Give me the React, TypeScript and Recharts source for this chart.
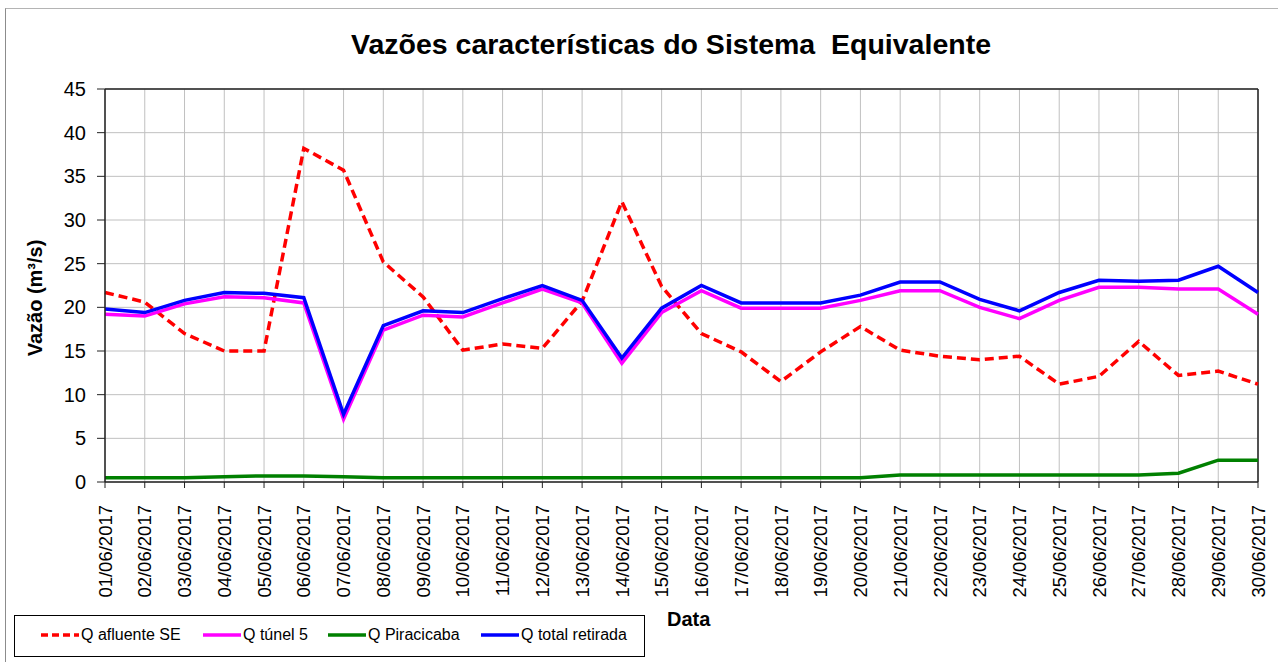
import { LineChart, Line, XAxis, YAxis, CartesianGrid, ReferenceLine } from 'recharts';

const DATES = [
  '01/06/2017', '02/06/2017', '03/06/2017', '04/06/2017', '05/06/2017',
  '06/06/2017', '07/06/2017', '08/06/2017', '09/06/2017', '10/06/2017',
  '11/06/2017', '12/06/2017', '13/06/2017', '14/06/2017', '15/06/2017',
  '16/06/2017', '17/06/2017', '18/06/2017', '19/06/2017', '20/06/2017',
  '21/06/2017', '22/06/2017', '23/06/2017', '24/06/2017', '25/06/2017',
  '26/06/2017', '27/06/2017', '28/06/2017', '29/06/2017', '30/06/2017',
];

const Q_AFLUENTE = [
  21.7, 20.6, 17.0, 15.0, 15.0, 38.2, 35.7, 25.2, 21.2, 15.1,
  15.8, 15.3, 20.7, 32.1, 22.4, 17.0, 14.9, 11.5, 14.9, 17.8,
  15.1, 14.4, 14.0, 14.4, 11.2, 12.1, 16.1, 12.2, 12.7, 11.2,
];

const Q_TUNEL = [
  19.2, 19.0, 20.4, 21.2, 21.1, 20.5, 7.2, 17.4, 19.1, 18.9,
  20.5, 22.1, 20.5, 13.6, 19.4, 21.9, 19.9, 19.9, 19.9, 20.8,
  21.9, 21.9, 20.0, 18.7, 20.8, 22.3, 22.3, 22.1, 22.1, 19.2,
];

const Q_PIRACICABA = [
  0.5, 0.5, 0.5, 0.6, 0.7, 0.7, 0.6, 0.5, 0.5, 0.5,
  0.5, 0.5, 0.5, 0.5, 0.5, 0.5, 0.5, 0.5, 0.5, 0.5,
  0.8, 0.8, 0.8, 0.8, 0.8, 0.8, 0.8, 1.0, 2.5, 2.5,
];

const Q_TOTAL = [
  19.8, 19.4, 20.8, 21.7, 21.6, 21.1, 7.75, 17.9, 19.6, 19.4,
  21.0, 22.5, 20.8, 14.2, 19.9, 22.5, 20.5, 20.5, 20.5, 21.4,
  22.9, 22.9, 20.9, 19.6, 21.7, 23.1, 23.0, 23.1, 24.7, 21.7,
];

const Y_TICKS = [0, 5, 10, 15, 20, 25, 30, 35, 40, 45];

const data = DATES.map((d, i) => ({
  data: d,
  afluente: Q_AFLUENTE[i],
  tunel: Q_TUNEL[i],
  piracicaba: Q_PIRACICABA[i],
  total: Q_TOTAL[i],
}));

const FONT = '"Liberation Sans", Arial, sans-serif';

const LEGEND = [
  { name: 'Q afluente SE', color: '#ff0000', dash: '7 4' },
  { name: 'Q túnel 5', color: '#ff00ff' },
  { name: 'Q Piracicaba', color: '#008000' },
  { name: 'Q total retirada', color: '#0000ff' },
];

const DateTick = ({ x, y, payload }: any) => (
  <text
    x={x}
    y={y + 15}
    transform={`rotate(-90, ${x}, ${y + 15})`}
    textAnchor="end"
    dy="0.36em"
    fontSize={18.5}
    fontFamily={FONT}
    fill="#000"
  >
    {payload.value}
  </text>
);

const YLabel = ({ viewBox }: any) => (
  <text
    x={viewBox.x + 35}
    y={298}
    transform={`rotate(-90, ${viewBox.x + 35}, 298)`}
    textAnchor="middle"
    dy="0.36em"
    fontSize={20}
    fontWeight="bold"
    fontFamily={FONT}
    fill="#000"
  >
    Vazão (m³/s)
  </text>
);

export default function App() {
  return (
    <div style={{ position: 'absolute', left: 0, top: 0, width: 1278, height: 662, overflow: 'hidden', background: '#fff', fontFamily: FONT }}>
      <div style={{ position: 'absolute', left: 5, top: 8, width: 1300, height: 700, borderLeft: '1px solid #8c8c8c', borderTop: '1px solid #b4b4b4' }} />
      <div style={{ position: 'absolute', left: 0, width: 1342, top: 28, textAlign: 'center', fontSize: 28.5, fontWeight: 'bold', color: '#000', whiteSpace: 'pre' }}>
        {'Vazões características do Sistema  Equivalente'}
      </div>
      <LineChart width={1278} height={662} data={data} margin={{ top: 89, right: 20, bottom: 0, left: 0 }}>
        <CartesianGrid stroke="#c0c0c0" strokeWidth={1} />
        <XAxis
          dataKey="data"
          interval={0}
          height={180}
          tick={<DateTick />}
          tickSize={6}
          axisLine={{ stroke: '#222', strokeWidth: 1.5 }}
          tickLine={{ stroke: '#222', strokeWidth: 1 }}
        />
        <YAxis
          width={105}
          domain={[0, 45]}
          ticks={Y_TICKS}
          interval={0}
          tickSize={8}
          tickMargin={11}
          tick={{ fontSize: 20, fill: '#000', fontFamily: FONT }}
          axisLine={{ stroke: '#222', strokeWidth: 1.5 }}
          tickLine={{ stroke: '#222', strokeWidth: 1 }}
          label={<YLabel />}
        />
        <ReferenceLine y={45} stroke="#222" strokeWidth={1.5} />
        <ReferenceLine x="30/06/2017" stroke="#222" strokeWidth={1.5} />
        <Line dataKey="afluente" stroke="#ff0000" strokeWidth={3.5} strokeDasharray="9 5" dot={false} isAnimationActive={false} />
        <Line dataKey="tunel" stroke="#ff00ff" strokeWidth={3.5} dot={false} isAnimationActive={false} />
        <Line dataKey="piracicaba" stroke="#008000" strokeWidth={3.5} dot={false} isAnimationActive={false} />
        <Line dataKey="total" stroke="#0000ff" strokeWidth={3.5} dot={false} isAnimationActive={false} />
      </LineChart>
      <div style={{ position: 'absolute', left: 667, top: 608, fontSize: 20, fontWeight: 'bold', color: '#000' }}>Data</div>
      <div style={{ position: 'absolute', left: 14, top: 615, width: 631, height: 42, border: '1px solid #000', boxSizing: 'border-box' }}>
        {LEGEND.map((item, i) => {
          const lefts = [26, 188, 313, 466];
          return (
            <div key={item.name} style={{ position: 'absolute', left: lefts[i], top: 10, display: 'flex', alignItems: 'center', whiteSpace: 'nowrap' }}>
              <svg width={38} height={6} style={{ marginRight: 2 }}>
                <line x1={0} y1={3} x2={38} y2={3} stroke={item.color} strokeWidth={3.5} strokeDasharray={item.dash} />
              </svg>
              <span style={{ fontSize: 16, color: '#000' }}>{item.name}</span>
            </div>
          );
        })}
      </div>
    </div>
  );
}
